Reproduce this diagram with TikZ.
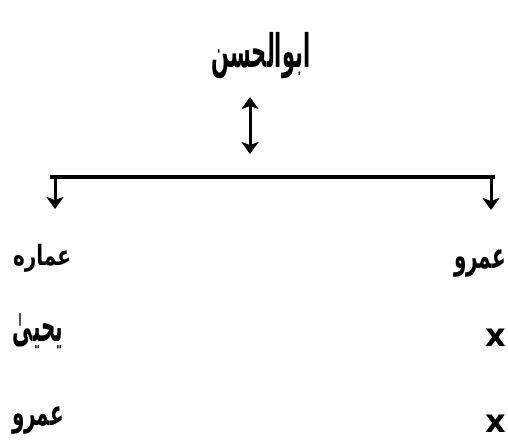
\documentclass[tikz,border=0pt]{standalone}
\usepackage{fontspec}
\newfontfamily\arabicfont[Script=Arabic]{DejaVu Sans}
\newfontfamily\latbold{DejaVu Sans}
\TeXXeTstate=1
\usetikzlibrary{arrows.meta}
\newcommand{\tallar}[2]{\scalebox{1}[#1]{\beginR #2\endR}}
\begin{document}
\begin{tikzpicture}[x=1pt,y=-1pt,
  lbl/.style={font=\arabicfont\bfseries\fontsize{20}{24}\selectfont, inner sep=0pt},
  ttl/.style={font=\arabicfont\bfseries\fontsize{21}{26}\selectfont, inner sep=0pt},
  xmark/.style={font=\latbold\bfseries\fontsize{32}{34}\selectfont, inner sep=0pt},
  conn/.style={line width=3.6pt},
  tip/.style={line width=3pt, -{Stealth[length=12pt,width=17pt,inset=3pt]}}]
\useasboundingbox (0,0) rectangle (508,446);
\node[ttl] (title) at (261,56) {\tallar{2.2}{ابوالحسن}};
\coordinate (dtop) at (250,97);
\coordinate (dbot) at (250,154);
\draw[line width=3pt, {Stealth[length=12pt,width=17pt,inset=3pt]}-{Stealth[length=12pt,width=17pt,inset=3pt]}] (dtop) -- (dbot);
\coordinate (hl) at (50,177);
\coordinate (hr) at (495,177);
\draw[conn] (hl) -- (hr);
\coordinate (la) at (55,176);
\coordinate (lb) at (55,209);
\coordinate (ra) at (491,176);
\coordinate (rb) at (491,210);
\draw[tip] (la) -- (lb);
\draw[tip] (ra) -- (rb);
\node[lbl] (l1) at (42,258) {\tallar{1.4}{عماره}};
\node[lbl] (l2) at (38,331) {\tallar{2.2}{یحییٰ}};
\node[lbl] (l3) at (38,421) {\tallar{1.8}{عمرو}};
\node[lbl] (r1) at (480,264) {\tallar{1.8}{عمرو}};
\node[xmark] (r2) at (496,338) {x};
\node[xmark] (r3) at (496,424) {x};
\end{tikzpicture}
\end{document}
